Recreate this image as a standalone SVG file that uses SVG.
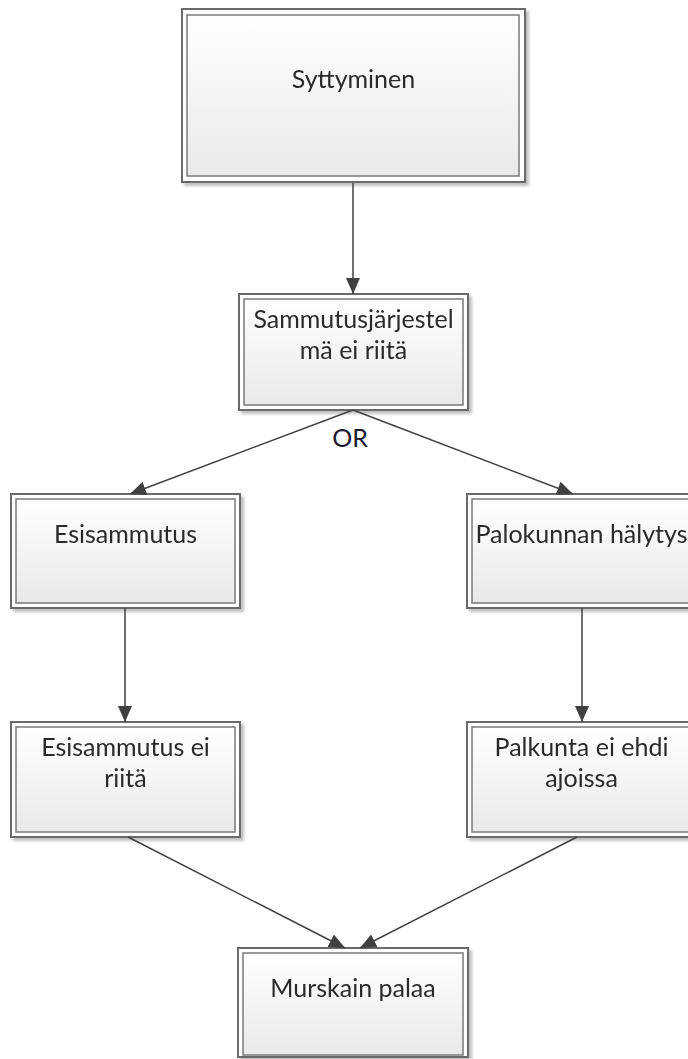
<svg xmlns="http://www.w3.org/2000/svg" width="688" height="1059" viewBox="0 0 688 1059">
<style>
.outer{fill:#ffffff;stroke:#6a6a6a;stroke-width:2}
.inner{fill:url(#g);stroke:#7a7a7a;stroke-width:1.5}
.t{font-family:Lato,"Open Sans",sans-serif;font-size:25px;fill:#2a2a2a;text-anchor:middle}
.c{stroke:#404040;stroke-width:1.5;fill:none;marker-end:url(#a)}
</style>
<defs>
<linearGradient id="g" x1="0" y1="0" x2="0" y2="1">
<stop offset="0" stop-color="#ffffff"/>
<stop offset="1" stop-color="#e9e9e9"/>
</linearGradient>
<filter id="sh" x="-5%" y="-5%" width="115%" height="115%">
<feGaussianBlur in="SourceAlpha" stdDeviation="1.5"/>
<feOffset dx="3" dy="3" result="o"/>
<feComponentTransfer><feFuncA type="linear" slope="0.25"/></feComponentTransfer>
<feMerge><feMergeNode/><feMergeNode in="SourceGraphic"/></feMerge>
</filter>
<marker id="a" markerUnits="userSpaceOnUse" markerWidth="16" markerHeight="14" refX="16" refY="7" orient="auto">
<path d="M0,0 L16,7 L0,14 z" fill="#404040"/>
</marker>
</defs>
<g id="n1" filter="url(#sh)">
<rect class="outer" x="182" y="9" width="343" height="173"/>
<rect class="inner" x="187" y="15" width="332" height="161"/>
<text class="t" x="353.5" y="88">Syttyminen</text>
</g>
<g id="n2" filter="url(#sh)">
<rect class="outer" x="239" y="294" width="229" height="116"/>
<rect class="inner" x="244" y="299" width="219" height="106"/>
<text class="t" x="353.5" y="328">Sammutusjärjestel</text>
<text class="t" x="353.5" y="359">mä ei riitä</text>
</g>
<g id="n3" filter="url(#sh)">
<rect class="outer" x="11" y="494" width="229" height="114"/>
<rect class="inner" x="16" y="499" width="219" height="104"/>
<text class="t" x="125.5" y="543">Esisammutus</text>
</g>
<g id="n4" filter="url(#sh)">
<rect class="outer" x="467" y="494" width="229" height="114"/>
<rect class="inner" x="472" y="499" width="219" height="104"/>
<text class="t" x="581.5" y="543">Palokunnan hälytys</text>
</g>
<g id="n5" filter="url(#sh)">
<rect class="outer" x="11" y="722" width="229" height="115"/>
<rect class="inner" x="16" y="727" width="219" height="105"/>
<text class="t" x="125.5" y="756">Esisammutus ei</text>
<text class="t" x="125.5" y="787">riitä</text>
</g>
<g id="n6" filter="url(#sh)">
<rect class="outer" x="467" y="722" width="229" height="115"/>
<rect class="inner" x="472" y="727" width="219" height="105"/>
<text class="t" x="581.5" y="756">Palkunta ei ehdi</text>
<text class="t" x="581.5" y="787">ajoissa</text>
</g>
<g id="n7" filter="url(#sh)">
<rect class="outer" x="238" y="948" width="230" height="109"/>
<rect class="inner" x="243" y="953" width="220" height="102"/>
<text class="t" x="353" y="997">Murskain palaa</text>
</g>
<g id="connectors">
<line class="c" x1="353" y1="183" x2="353" y2="294"/>
<line class="c" x1="353" y1="410" x2="130" y2="494"/>
<line class="c" x1="353" y1="410" x2="573" y2="494"/>
<line class="c" x1="125" y1="608" x2="125" y2="722"/>
<line class="c" x1="582" y1="608" x2="582" y2="722"/>
<line class="c" x1="128" y1="837" x2="345" y2="948"/>
<line class="c" x1="577" y1="837" x2="360" y2="948"/>
<text id="or" x="350" y="447" style="font-family:Lato,'Open Sans',sans-serif;font-size:25px;fill:#1a1a2e;text-anchor:middle">OR</text>
</g>
</svg>
